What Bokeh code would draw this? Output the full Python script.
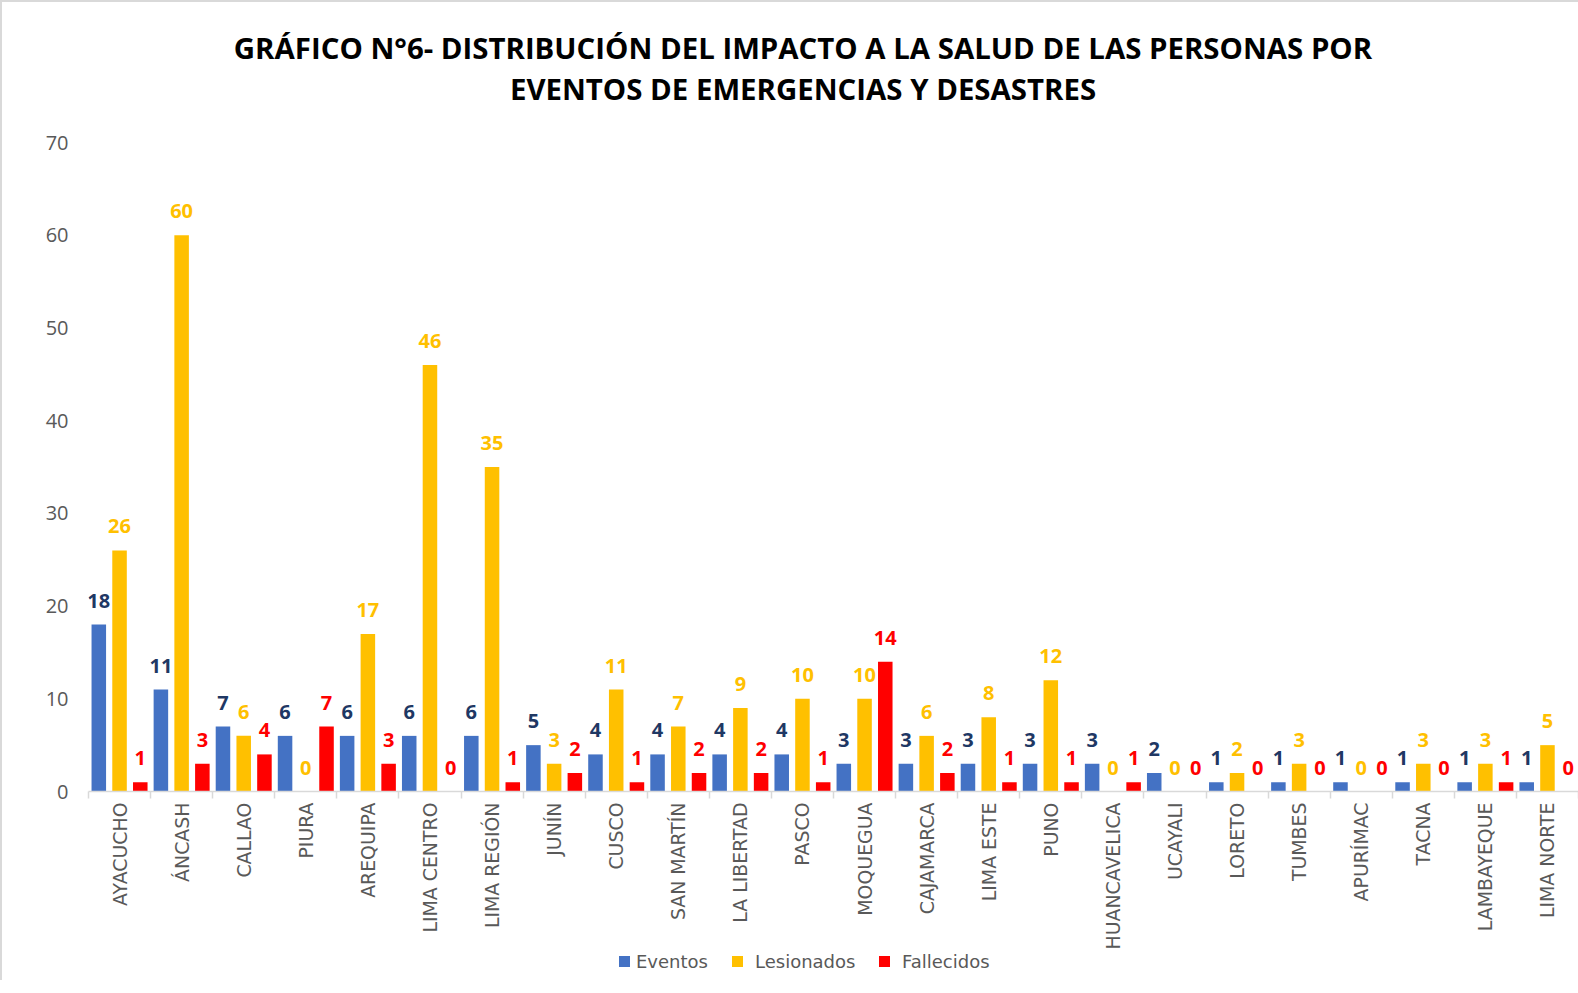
import math
import numpy as np
from bokeh.plotting import figure
from bokeh.layouts import column
from bokeh.models import (ColumnDataSource, Range1d, FixedTicker, LabelSet, Div)
from bokeh.core.properties import value
from bokeh.embed import file_html
from bokeh.resources import INLINE

# ---------------- data ----------------
regiones = ["AYACUCHO", "ÁNCASH", "CALLAO", "PIURA", "AREQUIPA", "LIMA CENTRO",
            "LIMA REGIÓN", "JUNÍN", "CUSCO", "SAN MARTÍN", "LA LIBERTAD", "PASCO",
            "MOQUEGUA", "CAJAMARCA", "LIMA ESTE", "PUNO", "HUANCAVELICA", "UCAYALI",
            "LORETO", "TUMBES", "APURÍMAC", "TACNA", "LAMBAYEQUE", "LIMA NORTE"]
eventos = [18, 11, 7, 6, 6, 6, 6, 5, 4, 4, 4, 4, 3, 3, 3, 3, 3, 2, 1, 1, 1, 1, 1, 1]
lesionados = [26, 60, 6, 0, 17, 46, 35, 3, 11, 7, 9, 10, 10, 6, 8, 12, 0, 0, 2, 3, 0, 3, 3, 5]
fallecidos = [1, 3, 4, 7, 3, 0, 1, 2, 1, 2, 2, 1, 14, 2, 1, 1, 1, 0, 0, 0, 0, 0, 1, 0]
series_names = ["Eventos", "Lesionados", "Fallecidos"]
y_ticks = [0, 10, 20, 30, 40, 50, 60, 70]
titulo = ["GRÁFICO N°6- DISTRIBUCIÓN DEL IMPACTO A LA SALUD DE LAS PERSONAS POR",
          "EVENTOS DE EMERGENCIAS Y DESASTRES"]

# ---------------- styles ----------------
bar_colors = ["#4472C4", "#FFC000", "#FF0000"]
label_colors = ["#1F3864", "#FFC000", "#FF0000"]
offsets = [-0.334, 0.0, 0.334]
bar_w = 0.234

n = len(regiones)
idx = np.arange(n)

# ---------------- title ----------------
title_div = Div(
    width=1576, height=112, margin=0,
    text=('<div style="margin-left:26px;width:1550px;padding-top:26px;'
          'text-align:center;font-family:\'Open Sans\';font-weight:bold;'
          'font-size:29.4px;line-height:41px;color:#000000;white-space:nowrap">'
          + titulo[0] + '<br>' + titulo[1] + '</div>'))

# ---------------- chart ----------------
p = figure(width=1576, height=838, output_backend="svg", toolbar_location=None,
           x_range=Range1d(-0.5, n - 0.5), y_range=Range1d(0, 70),
           min_border_left=86, min_border_right=0, min_border_top=28,
           min_border_bottom=160, margin=0)
p.background_fill_color = "white"
p.border_fill_color = "white"
p.outline_line_color = None
p.xgrid.visible = False
p.ygrid.visible = False

for k, vals in enumerate([eventos, lesionados, fallecidos]):
    src = ColumnDataSource(dict(x=idx + offsets[k], top=vals,
                                t=[str(v) for v in vals]))
    p.vbar(x="x", top="top", width=bar_w, source=src,
           fill_color=bar_colors[k], line_color=None)
    p.add_layout(LabelSet(x="x", y="top", text="t", source=src, text_align="center",
                          text_baseline="middle", y_offset=24,
                          text_font=value("Open Sans"), text_font_style="bold",
                          text_font_size="20px", text_color=label_colors[k]))

# x axis
p.xaxis.ticker = FixedTicker(ticks=list(range(n)),
                             minor_ticks=[i - 0.5 for i in range(n + 1)])
p.xaxis.major_label_overrides = {i: regiones[i] for i in range(n)}
p.xaxis.major_label_orientation = math.pi / 2
p.xaxis.axis_line_color = "#D9D9D9"
p.xaxis.axis_line_width = 1.5
p.xaxis.major_tick_line_color = None
p.xaxis.major_tick_in = 0
p.xaxis.major_tick_out = 0
p.xaxis.minor_tick_line_color = "#D9D9D9"
p.xaxis.minor_tick_line_width = 1.5
p.xaxis.minor_tick_in = 0
p.xaxis.minor_tick_out = 7
p.xaxis.major_label_standoff = 4
p.xaxis.major_label_text_font = "DejaVu Sans"
p.xaxis.major_label_text_font_size = "18.9px"
p.xaxis.major_label_text_color = "#595959"

# y axis
p.yaxis.ticker = FixedTicker(ticks=y_ticks)
p.yaxis.axis_line_color = None
p.yaxis.major_tick_line_color = None
p.yaxis.minor_tick_line_color = None
p.yaxis.major_tick_in = 0
p.yaxis.major_tick_out = 0
p.yaxis.major_label_standoff = 20
p.yaxis.major_label_text_font = "Open Sans"
p.yaxis.major_label_text_font_size = "20px"
p.yaxis.major_label_text_color = "#595959"

# ---------------- legend (HTML row under the chart) ----------------
sq_left = [617, 730, 877]
txt_left = [634, 753, 900]
items = ""
for k in range(3):
    items += ('<span style="position:absolute;left:%dpx;top:4px;width:11px;'
              'height:11px;background:%s"></span>' % (sq_left[k], bar_colors[k]))
    items += ('<span style="position:absolute;left:%dpx;top:1px;line-height:17px">'
              '%s</span>' % (txt_left[k], series_names[k]))
legend_div = Div(
    width=1576, height=28, margin=0,
    text=('<div style="position:relative;width:1576px;height:28px;'
          'font-family:\'DejaVu Sans\';font-size:18px;color:#595959;'
          'white-space:nowrap">' + items + '</div>'))

layout = column(title_div, p, legend_div, spacing=0)
layout.styles = {"border-left": "2px solid #D9D9D9", "border-top": "2px solid #D9D9D9"}

open("out.html", "w").write(file_html(layout, INLINE))
